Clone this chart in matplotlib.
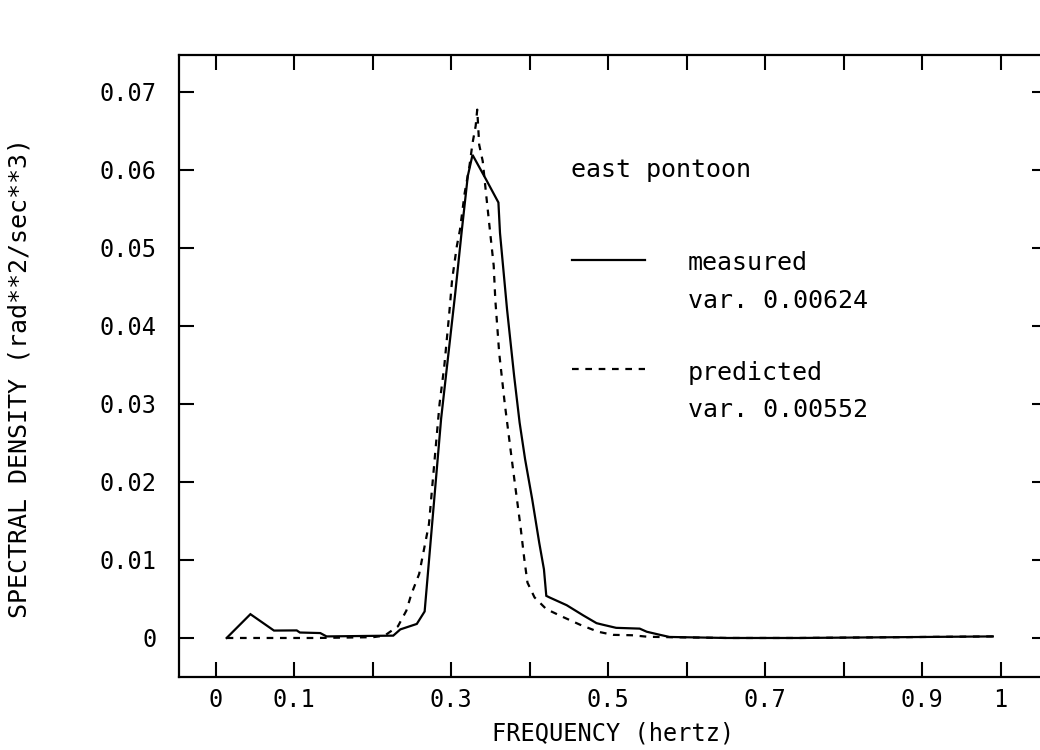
import numpy as np
import matplotlib
matplotlib.use('Agg')
from matplotlib import pyplot as plt


# measured spectrum (solid)
f_meas = [0.0137, 0.044, 0.074, 0.103, 0.107, 0.133, 0.141, 0.226, 0.235, 0.256,
          0.266, 0.287, 0.305, 0.313, 0.321, 0.327, 0.344, 0.360, 0.362, 0.371,
          0.380, 0.387, 0.394, 0.403, 0.412, 0.418, 0.421, 0.425, 0.447, 0.468,
          0.485, 0.493, 0.510, 0.540, 0.549, 0.566, 0.578, 0.651, 0.744, 0.990]
s_meas = [0.0, 0.00305, 0.00095, 0.00097, 0.0007, 0.00063, 0.0002, 0.0003, 0.0011, 0.0018,
          0.0034, 0.0281, 0.0442, 0.0519, 0.0592, 0.0619, 0.0588, 0.0558, 0.0519, 0.0421,
          0.0336, 0.0276, 0.0229, 0.0178, 0.0122, 0.0088, 0.0054, 0.0052, 0.0042, 0.0029,
          0.0019, 0.0017, 0.0013, 0.0012, 0.0008, 0.0004, 0.00013, 0.0, 0.0, 0.0002]

# predicted spectrum (dashed)
f_pred = [0.0137, 0.128, 0.200, 0.215, 0.232, 0.2427, 0.249, 0.259, 0.2715, 0.279,
          0.285, 0.291, 0.297, 0.301, 0.307, 0.311, 0.317, 0.323, 0.327, 0.331,
          0.333, 0.3355, 0.340, 0.3446, 0.349, 0.354, 0.356, 0.361, 0.368, 0.377,
          0.382, 0.388, 0.393, 0.397, 0.406, 0.421, 0.442, 0.464, 0.487, 0.506,
          0.530, 0.551, 0.580, 0.651, 0.744, 0.990]
s_pred = [0.0, 0.0, 0.0001, 0.0003, 0.0015, 0.0035, 0.0056, 0.0082, 0.0146, 0.0232,
          0.0300, 0.0348, 0.0412, 0.0459, 0.0502, 0.0523, 0.0570, 0.0604, 0.0634, 0.0656,
          0.0677, 0.0632, 0.0611, 0.0566, 0.0524, 0.0477, 0.0434, 0.0365, 0.0301, 0.0229,
          0.0190, 0.0144, 0.0101, 0.0071, 0.0052, 0.0037, 0.0027, 0.0017, 0.0008, 0.0004,
          0.00035, 0.00015, 0.0001, 0.0, 0.0, 0.0002]

xticks      = np.arange(0, 1.01, 0.1)
xticklabels = ['0', '0.1', '', '0.3', '', '0.5', '', '0.7', '', '0.9', '1']
yticks      = np.arange(0, 0.071, 0.01)
yticklabels = ['0', '0.01', '0.02', '0.03', '0.04', '0.05', '0.06', '0.07']

title_txt = 'east pontoon'
labels    = ['measured', 'predicted']
variances = ['var. 0.00624', 'var. 0.00552']


plt.rcParams['font.family'] = ['DejaVu Sans Mono']
fig = plt.figure(figsize=(10.4, 7.5), dpi=100)
ax  = fig.add_axes([179/1040, 73/750, 868/1040, 622/750])

ax.plot(f_meas, s_meas, color='k', lw=1.6, solid_joinstyle='miter')
ax.plot(f_pred, s_pred, color='k', lw=1.6, linestyle=(0, (3, 3)))

ax.set_xlim(-0.047, 1.059)
ax.set_ylim(-0.0050, 0.0747)
ax.set_xticks(xticks)
ax.set_xticklabels(xticklabels)
ax.set_yticks(yticks)
ax.set_yticklabels(yticklabels)
ax.tick_params(direction='in', length=11, width=1.5, top=True, right=True,
               labelsize=17)
ax.tick_params(axis='y', pad=16)
ax.tick_params(axis='x', pad=8)
for sp in ax.spines.values():
    sp.set_linewidth(1.6)

ax.set_xlabel('FREQUENCY (hertz)', fontsize=17, labelpad=7)
fig.text(20/1040, 1 - 378/750, 'SPECTRAL DENSITY (rad**2/sec**3)', rotation=90,
         ha='center', va='center', fontsize=18)

# legend block
tr = ax.transAxes
ax.text(0.452, 0.815, title_txt, transform=tr, fontsize=18, va='center', ha='left')
ax.plot([0.4524, 0.5369], [0.670, 0.670], transform=tr, color='k', lw=1.6)
ax.text(0.5864, 0.665, labels[0], transform=tr, fontsize=18, va='center', ha='left')
ax.text(0.5864, 0.604, variances[0], transform=tr, fontsize=18, va='center', ha='left')
ax.plot([0.4524, 0.5369], [0.495, 0.495], transform=tr, color='k', lw=1.6,
        linestyle=(0, (3, 3)))
ax.text(0.5864, 0.489, labels[1], transform=tr, fontsize=18, va='center', ha='left')
ax.text(0.5864, 0.430, variances[1], transform=tr, fontsize=18, va='center', ha='left')

fig.savefig('out.png', dpi=100)
